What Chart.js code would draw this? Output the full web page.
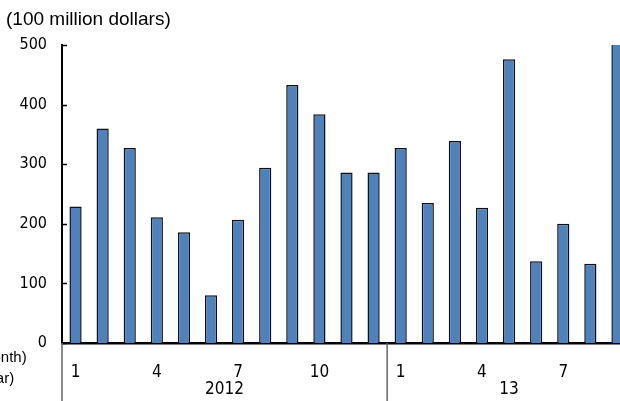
<!DOCTYPE html>
<html>
<head>
<meta charset="utf-8">
<script src="https://cdn.jsdelivr.net/npm/chart.js@4"></script>
<style>
  html, body { margin: 0; padding: 0; background: #fff; overflow: hidden; }
  #wrap { width: 640px; height: 401px; }
</style>
</head>
<body>
<div id="wrap"><canvas id="barChart" width="640" height="401"></canvas></div>
<script>
// DATA

const months = [1,2,3,4,5,6,7,8,9,10,11,12, 1,2,3,4,5,6,7,8,9];
const years = ['2012', '13'];
const yearLengths = [12, 9];
const values = [229,360,327,211,186,80,207,294,433,384,286,286, 327,235,339,227,476,137,200,133,530];
const yTicks = [0,100,200,300,400,500];
const shownMonths = [1,4,7,10];

const labelFont = "'Liberation Sans Narrow', 'DejaVu Sans Condensed', sans-serif";


// EXTRA DRAWING: title, year row, dividers, inward ticks

const extras = {
  id: 'extras',
  afterDraw(chart) {
    const ctx = chart.ctx;
    const area = chart.chartArea;
    const x = chart.scales.x;
    const y = chart.scales.y;
    const bottom = chart.height;
    const step = x.getPixelForValue(1) - x.getPixelForValue(0);

    ctx.save();
    ctx.fillStyle = '#000';

    // unit title
    ctx.font = "19px 'Liberation Sans', Arial, sans-serif";
    ctx.textAlign = 'left';
    ctx.textBaseline = 'middle';
    ctx.fillText('(100 million dollars)', 6, 20);

    // axis captions, cut by the left edge
    ctx.font = "15px 'Liberation Sans', Arial, sans-serif";
    ctx.fillText('(month)', -25, 358);
    ctx.fillText('(year)', -25, 379);

    // inward y ticks
    ctx.strokeStyle = '#000';
    ctx.lineWidth = 1.5;
    yTicks.forEach(v => {
      const py = Math.round(y.getPixelForValue(v)) + 0.5;
      ctx.beginPath();
      ctx.moveTo(area.left, py);
      ctx.lineTo(area.left + 5, py);
      ctx.stroke();
    });

    // year dividers and labels
    ctx.strokeStyle = '#666';
    ctx.lineWidth = 1.5;
    ctx.font = '17px ' + labelFont;
    ctx.textAlign = 'center';
    let start = 0;
    years.forEach((yr, i) => {
      const end = start + yearLengths[i];
      const left = x.getPixelForValue(start) - step / 2;
      const right = x.getPixelForValue(end - 1) + step / 2;
      ctx.beginPath();
      ctx.moveTo(left, area.bottom);
      ctx.lineTo(left, bottom);
      ctx.stroke();
      ctx.fillText(yr, (left + right) / 2, 390);
      start = end;
    });

    ctx.restore();
  }
};


// BAR CHART

const barCtx = document.getElementById('barChart');

new Chart(barCtx, {

  type: 'bar',

  data: {
    labels: months,
    datasets: [{
      data: values,
      backgroundColor: '#4f81bd',
      borderColor: '#111',
      borderWidth: 1.5,
      categoryPercentage: 1,
      barPercentage: 0.45
    }]
  },

  options: {
    responsive: false,
    animation: false,
    events: [],
    layout: {
      padding: { left: 0, right: 9, top: 45, bottom: 0 }
    },
    plugins: {
      legend: { display: false },
      tooltip: { enabled: false }
    },
    scales: {
      x: {
        grid: { display: false },
        border: { display: true, color: '#000', width: 2.5 },
        ticks: {
          autoSkip: false,
          maxRotation: 0,
          color: '#000',
          padding: 11,
          font: { family: labelFont, size: 17 },
          callback: function(val) {
            const m = months[val];
            return shownMonths.includes(m) ? String(m) : '';
          }
        },
        afterFit(scale) { scale.height = 58; }
      },
      y: {
        min: 0,
        max: 500,
        grid: { display: false },
        border: { display: true, color: '#000', width: 2 },
        ticks: {
          stepSize: 100,
          color: '#000',
          padding: 7,
          font: { family: labelFont, size: 16 }
        },
        afterFit(scale) { scale.width = 62; }
      }
    }
  },

  plugins: [extras]
});
</script>
</body>
</html>
